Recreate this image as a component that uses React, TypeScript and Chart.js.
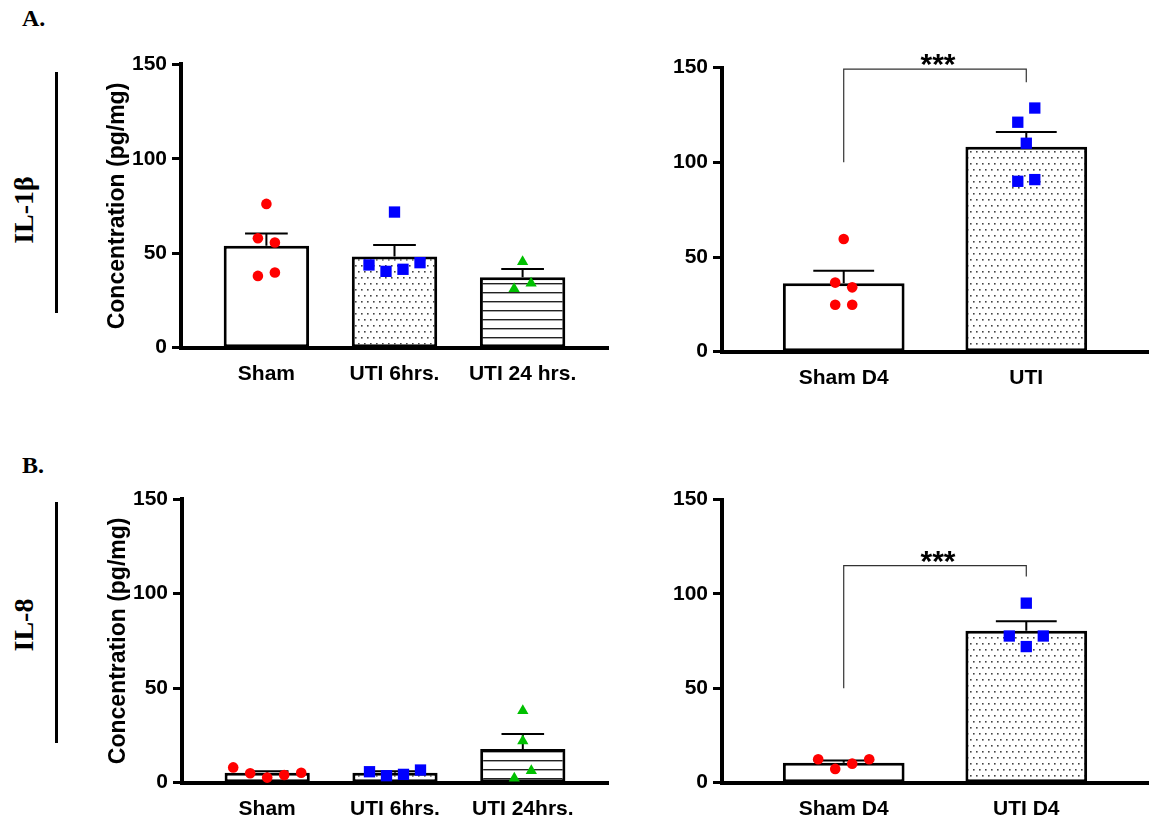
import React, { useEffect, useRef } from 'react';
import { Chart, registerables } from 'chart.js';

Chart.register(...registerables);

const FONT_SANS = '"Liberation Sans", Arial, Helvetica, sans-serif';
const FONT_SERIF = '"Liberation Serif", "Times New Roman", serif';

const Y_TICKS = [0, 50, 100, 150];
const Y_TITLE = 'Concentration (pg/mg)';
const SIG_LABEL = '***';

// Panel A, left: IL-1β time course
const aLeftCategories = ['Sham', 'UTI 6hrs.', 'UTI 24 hrs.'];
const aLeftMeans = [53.9, 48.3, 37.3];
const aLeftSems = [6.6, 6.0, 4.4];
const aLeftSham = [76.1, 57.9, 55.7, 38.0, 39.8];
const aLeftShamJitter = [0, -1, 1, -1, 1];
const aLeftUti6 = [71.8, 43.8, 40.4, 41.5, 45.0];
const aLeftUti6Jitter = [0, -3, -1, 1, 3];
const aLeftUti24 = [45.5, 31.2, 34.1];
const aLeftUti24Jitter = [0, -1, 1];

// Panel A, right: IL-1β day 4
const aRightCategories = ['Sham D4', 'UTI'];
const aRightMeans = [36.1, 108.3];
const aRightSems = [6.7, 7.8];
const aRightSham = [59.5, 36.5, 34.0, 24.8, 24.8];
const aRightShamJitter = [0, -1, 1, -1, 1];
const aRightUti = [128.7, 121.2, 110.1, 90.0, 90.9];
const aRightUtiJitter = [1, -1, 0, -1, 1];
const aRightBracket = [100, 149.2, 142.3];

// Panel B, left: IL-8 time course
const bLeftCategories = ['Sham', 'UTI 6hrs.', 'UTI 24hrs.'];
const bLeftMeans = [5.2, 5.3, 17.8];
const bLeftSems = [0.9, 0.7, 8.0];
const bLeftSham = [8.1, 5.0, 2.7, 4.1, 5.3];
const bLeftShamJitter = [-4, -2, 0, 2, 4];
const bLeftUti6 = [5.8, 3.7, 4.4, 6.7];
const bLeftUti6Jitter = [-3, -1, 1, 3];
const bLeftUti24 = [38.1, 22.0, 6.3, 2.3];
const bLeftUti24Jitter = [0, 0, 1, -1];

// Panel B, right: IL-8 day 4
const bRightCategories = ['Sham D4', 'UTI D4'];
const bRightMeans = [10.6, 80.5];
const bRightSems = [1.2, 5.0];
const bRightSham = [12.4, 7.3, 10.1, 12.4];
const bRightShamJitter = [-3, -1, 1, 3];
const bRightUti = [95.1, 77.7, 77.7, 72.1];
const bRightUtiJitter = [0, -2, 2, 0];
const bRightBracket = [50, 115, 109.2];

const RED = '#ff0000';
const BLUE = '#0000ff';
const GREEN = '#00c000';

const W = 1157;
const H = 823;
const JITTER_PX = 8.5;

type Group = { values: number[]; jitter: number[]; style: string; color: string; radius: number };
type Panel = {
  cats: string[];
  means: number[];
  sems: number[];
  fills: string[];
  groups: Group[];
  box: { left: number; right: number; top: number; bottom: number };
  title: boolean;
  bracket: number[] | null;
};

const circle = (values: number[], jitter: number[]): Group => ({ values, jitter, style: 'circle', color: RED, radius: 5.3 });
const square = (values: number[], jitter: number[]): Group => ({ values, jitter, style: 'rect', color: BLUE, radius: 8 });
const tri = (values: number[], jitter: number[]): Group => ({ values, jitter, style: 'triangle', color: GREEN, radius: 6.5 });

const PANELS: Panel[] = [
  {
    cats: aLeftCategories, means: aLeftMeans, sems: aLeftSems,
    fills: ['white', 'dots', 'lines'],
    groups: [circle(aLeftSham, aLeftShamJitter), square(aLeftUti6, aLeftUti6Jitter), tri(aLeftUti24, aLeftUti24Jitter)],
    box: { left: 181, right: 608, top: 64.3, bottom: 347.7 }, title: true, bracket: null,
  },
  {
    cats: aRightCategories, means: aRightMeans, sems: aRightSems,
    fills: ['white', 'dots'],
    groups: [circle(aRightSham, aRightShamJitter), square(aRightUti, aRightUtiJitter)],
    box: { left: 722, right: 1148, top: 67.7, bottom: 351.7 }, title: false, bracket: aRightBracket,
  },
  {
    cats: bLeftCategories, means: bLeftMeans, sems: bLeftSems,
    fills: ['white', 'dots', 'lines'],
    groups: [circle(bLeftSham, bLeftShamJitter), square(bLeftUti6, bLeftUti6Jitter), tri(bLeftUti24, bLeftUti24Jitter)],
    box: { left: 182, right: 608, top: 499, bottom: 782.7 }, title: true, bracket: null,
  },
  {
    cats: bRightCategories, means: bRightMeans, sems: bRightSems,
    fills: ['white', 'dots'],
    groups: [circle(bRightSham, bRightShamJitter), square(bRightUti, bRightUtiJitter)],
    box: { left: 722, right: 1148, top: 499.5, bottom: 782.7 }, title: false, bracket: bRightBracket,
  },
];

function makeDotPattern(): CanvasPattern | string {
  const c = document.createElement('canvas');
  c.width = 12; c.height = 12;
  const g = c.getContext('2d');
  if (!g) return '#fff';
  g.fillStyle = '#fff';
  g.fillRect(0, 0, 12, 12);
  g.fillStyle = '#444';
  g.fillRect(1, 1, 1.6, 1.6);
  g.fillRect(7, 1, 1.6, 1.6);
  g.fillRect(4, 7, 1.6, 1.6);
  g.fillRect(10, 7, 1.6, 1.6);
  return g.createPattern(c, 'repeat') || '#fff';
}

function makeLinePattern(): CanvasPattern | string {
  const c = document.createElement('canvas');
  c.width = 8; c.height = 9;
  const g = c.getContext('2d');
  if (!g) return '#fff';
  g.fillStyle = '#fff';
  g.fillRect(0, 0, 8, 9);
  g.fillStyle = '#222';
  g.fillRect(0, 4, 8, 1.4);
  return g.createPattern(c, 'repeat') || '#fff';
}

function buildConfig(p: Panel, dots: any, lines: any): any {
  const n = p.cats.length;
  const xMin = -2 / 3;
  const xMax = n - 1 + 2 / 3;
  const pxPerUnit = (p.box.right - p.box.left) / (xMax - xMin);
  const ju = JITTER_PX / pxPerUnit;
  const yW = p.title ? 80 : 60;
  const xH = 40;

  const barDataset = {
    type: 'bar',
    data: p.means.map((m, i) => ({ x: i, y: m })),
    backgroundColor: p.fills.map((f) => (f === 'dots' ? dots : f === 'lines' ? lines : '#ffffff')),
    borderColor: '#000',
    borderWidth: 3,
    borderSkipped: false,
    barPercentage: 2 / 3,
    categoryPercentage: 1,
    order: 2,
  };

  const scatterSets = p.groups.map((g, gi) => ({
    type: 'scatter',
    data: g.values.map((v, k) => ({ x: gi + g.jitter[k] * ju, y: v })),
    pointStyle: g.style,
    pointRadius: g.radius,
    pointHoverRadius: g.radius,
    backgroundColor: g.color,
    borderColor: g.color,
    borderWidth: 0,
    showLine: false,
    clip: false,
    order: 1,
  }));

  const errorBars = {
    id: 'errorBars',
    afterDatasetDraw(chart: any, args: any) {
      if (args.index !== 0) return;
      const meta = chart.getDatasetMeta(0);
      const ys = chart.scales.y;
      const ctx = chart.ctx;
      ctx.save();
      ctx.strokeStyle = '#000';
      ctx.lineWidth = 2;
      meta.data.forEach((bar: any, i: number) => {
        const yTop = ys.getPixelForValue(p.means[i]);
        const yErr = ys.getPixelForValue(p.means[i] + p.sems[i]);
        const half = bar.width / 4;
        ctx.beginPath();
        ctx.moveTo(bar.x, yTop);
        ctx.lineTo(bar.x, yErr);
        ctx.moveTo(bar.x - half, yErr);
        ctx.lineTo(bar.x + half, yErr);
        ctx.stroke();
      });
      ctx.restore();
    },
  };

  const bracketPlugin = {
    id: 'sigBracket',
    afterDraw(chart: any) {
      if (!p.bracket) return;
      const [lowY, topY, rightY] = p.bracket;
      const xs = chart.scales.x;
      const ys = chart.scales.y;
      const ctx = chart.ctx;
      const x0 = xs.getPixelForValue(0);
      const x1 = xs.getPixelForValue(1);
      const yT = ys.getPixelForValue(topY);
      ctx.save();
      ctx.strokeStyle = '#333';
      ctx.lineWidth = 1.2;
      ctx.beginPath();
      ctx.moveTo(x0, ys.getPixelForValue(lowY));
      ctx.lineTo(x0, yT);
      ctx.lineTo(x1, yT);
      ctx.lineTo(x1, ys.getPixelForValue(rightY));
      ctx.stroke();
      ctx.fillStyle = '#000';
      ctx.font = `bold 30px ${FONT_SANS}`;
      ctx.textAlign = 'center';
      ctx.textBaseline = 'alphabetic';
      ctx.fillText(SIG_LABEL, (x0 + x1) / 2 + 3, yT + 5);
      ctx.restore();
    },
  };

  return {
    type: 'bar',
    data: { datasets: [barDataset, ...scatterSets] },
    plugins: [errorBars, bracketPlugin],
    options: {
      responsive: false,
      maintainAspectRatio: false,
      animation: false,
      events: [],
      layout: {
        padding: {
          left: p.box.left - yW,
          right: W - p.box.right,
          top: p.box.top,
          bottom: H - p.box.bottom - xH,
        },
      },
      plugins: { legend: { display: false }, tooltip: { enabled: false } },
      scales: {
        x: {
          type: 'linear',
          min: xMin,
          max: xMax,
          offset: false,
          grid: { display: false, drawTicks: false, offset: false },
          border: { display: true, width: 4, color: '#000' },
          ticks: {
            autoSkip: false,
            maxRotation: 0,
            minRotation: 0,
            padding: 14,
            color: '#000',
            font: { family: FONT_SANS, size: 21, weight: 'bold' },
            callback: (v: any) => p.cats[Math.round(Number(v))] ?? '',
          },
          afterBuildTicks: (ax: any) => {
            ax.ticks = p.cats.map((_, i) => ({ value: i }));
          },
          afterFit: (ax: any) => {
            ax.height = xH;
          },
        },
        y: {
          type: 'linear',
          min: 0,
          max: 150,
          grid: {
            display: true,
            drawOnChartArea: false,
            drawTicks: true,
            tickLength: 9,
            tickWidth: 3,
            tickColor: '#000',
          },
          border: { display: true, width: 4, color: '#000' },
          ticks: {
            padding: 5,
            color: '#000',
            font: { family: FONT_SANS, size: 21, weight: 'bold' },
          },
          title: {
            display: p.title,
            text: Y_TITLE,
            color: '#000',
            font: { family: FONT_SANS, size: 23, weight: 'bold' },
            padding: { top: 3, bottom: 0 },
          },
          afterBuildTicks: (ax: any) => {
            ax.ticks = Y_TICKS.map((v) => ({ value: v }));
          },
          afterFit: (ax: any) => {
            ax.width = yW;
          },
        },
      },
    },
  };
}

export default function App() {
  const r0 = useRef<HTMLCanvasElement>(null);
  const r1 = useRef<HTMLCanvasElement>(null);
  const r2 = useRef<HTMLCanvasElement>(null);
  const r3 = useRef<HTMLCanvasElement>(null);

  useEffect(() => {
    const dots = makeDotPattern();
    const lines = makeLinePattern();
    const refs = [r0, r1, r2, r3];
    const charts: Chart[] = [];
    refs.forEach((r, i) => {
      if (!r.current) return;
      charts.push(new Chart(r.current, buildConfig(PANELS[i], dots, lines)));
    });
    return () => charts.forEach((c) => c.destroy());
  }, []);

  const canvasStyle: React.CSSProperties = { position: 'absolute', left: 0, top: 0 };
  const letterStyle: React.CSSProperties = {
    position: 'absolute', left: 22, fontFamily: FONT_SERIF, fontWeight: 'bold',
    fontSize: 24, lineHeight: '24px', color: '#000', whiteSpace: 'nowrap',
  };
  const rotStyle = (cy: number): React.CSSProperties => ({
    position: 'absolute', left: 23.5, top: cy, fontFamily: FONT_SERIF, fontWeight: 'bold',
    fontSize: 28, lineHeight: '28px', color: '#000', whiteSpace: 'nowrap',
    transform: 'translate(-50%, -50%) rotate(-90deg)',
  });
  const barStyle = (top: number): React.CSSProperties => ({
    position: 'absolute', left: 55, top, width: 3, height: 241, background: '#000',
  });

  return (
    <div style={{ position: 'absolute', left: 0, top: 0, width: W, height: H, background: '#fff', overflow: 'hidden' }}>
      <div style={{ ...letterStyle, top: 6 }}>A.</div>
      <div style={{ ...letterStyle, top: 453 }}>B.</div>
      <div style={rotStyle(210)}>IL-1β</div>
      <div style={rotStyle(625)}>IL-8</div>
      <div style={barStyle(72)} />
      <div style={barStyle(502)} />
      <canvas ref={r0} width={W} height={H} style={canvasStyle} />
      <canvas ref={r1} width={W} height={H} style={canvasStyle} />
      <canvas ref={r2} width={W} height={H} style={canvasStyle} />
      <canvas ref={r3} width={W} height={H} style={canvasStyle} />
    </div>
  );
}
